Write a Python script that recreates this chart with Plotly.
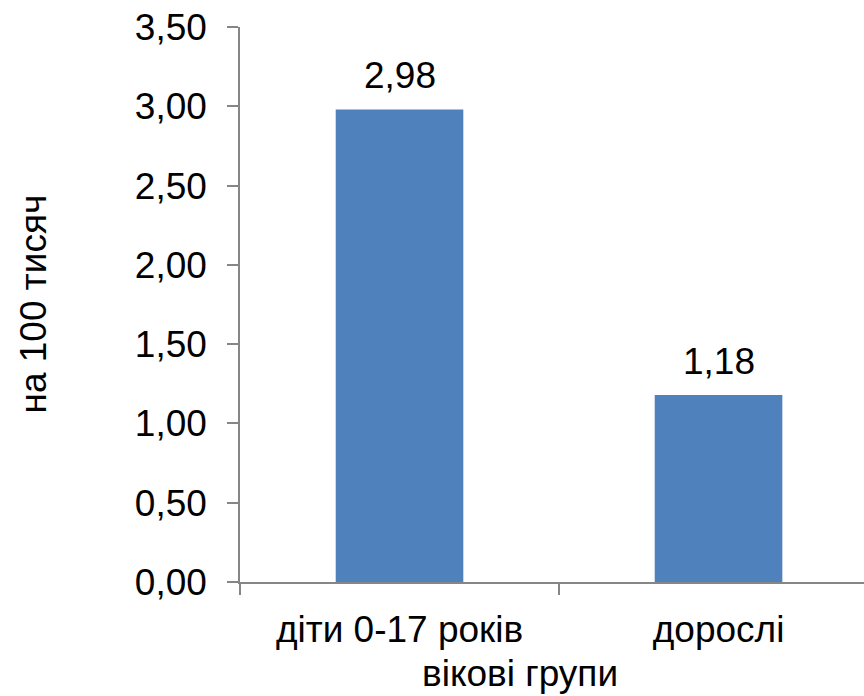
import plotly.graph_objects as go

categories = ["діти 0-17 років", "дорослі"]
values = [2.98, 1.18]
y_ticks = [0, 0.5, 1.0, 1.5, 2.0, 2.5, 3.0, 3.5]
x_title = "вікові групи"
y_title = "на 100 тисяч"

FONT = "Liberation Sans, Arial, sans-serif"
AXIS = "#868686"
FS = 37

fig = go.Figure()
fig.add_trace(go.Bar(
    x=categories,
    y=values,
    width=0.4,
    marker=dict(color="#4F81BD", line=dict(width=0)),
    cliponaxis=False,
))

for c, v in zip(categories, values):
    fig.add_annotation(
        x=c, y=v, xref="x", yref="y",
        text=f"{v:.2f}".replace(".", ","),
        showarrow=False, yanchor="bottom", yshift=11,
        font=dict(size=FS, family=FONT, color="black"),
    )

fig.update_layout(
    width=864, height=696,
    margin=dict(l=240, r=0, t=27, b=114),
    plot_bgcolor="white", paper_bgcolor="white",
    separators=", ",
    showlegend=False,
    font=dict(family=FONT, size=FS, color="black"),
    bargap=0.6,
)
fig.update_xaxes(
    range=[-0.5, 1.456],
    showline=True, linecolor=AXIS, linewidth=1.5,
    ticks="outside", tickson="boundaries", ticklen=11, tickcolor=AXIS, tickwidth=1.5,
    showgrid=False, zeroline=False,
    tickfont=dict(size=FS, family=FONT, color="black"),
    ticklabelstandoff=14,
)
fig.update_yaxes(
    range=[0, 3.5],
    tickvals=y_ticks, tickformat=".2f",
    showline=True, linecolor=AXIS, linewidth=1.5,
    ticks="outside", ticklen=11, tickcolor=AXIS, tickwidth=1.5,
    showgrid=False, zeroline=False,
    tickfont=dict(size=FS, family=FONT, color="black"),
    ticklabelstandoff=13,
)

# axis titles placed as annotations (pixel-accurate placement)
fig.add_annotation(
    text=x_title, xref="paper", yref="paper",
    x=(519.5 - 240) / 624, y=-(673 - 582) / 555,
    xanchor="center", yanchor="middle", showarrow=False,
    font=dict(size=FS, family=FONT, color="black"),
)
fig.add_annotation(
    text=y_title, xref="paper", yref="paper",
    x=-(240 - 33) / 624, y=0.5, textangle=-90,
    xanchor="center", yanchor="middle", showarrow=False,
    font=dict(size=FS, family=FONT, color="black"),
)

fig.write_html(
    "out.html",
    config={"displayModeBar": False},
    post_script="document.body.style.margin='0';document.body.style.padding='0';",
)
